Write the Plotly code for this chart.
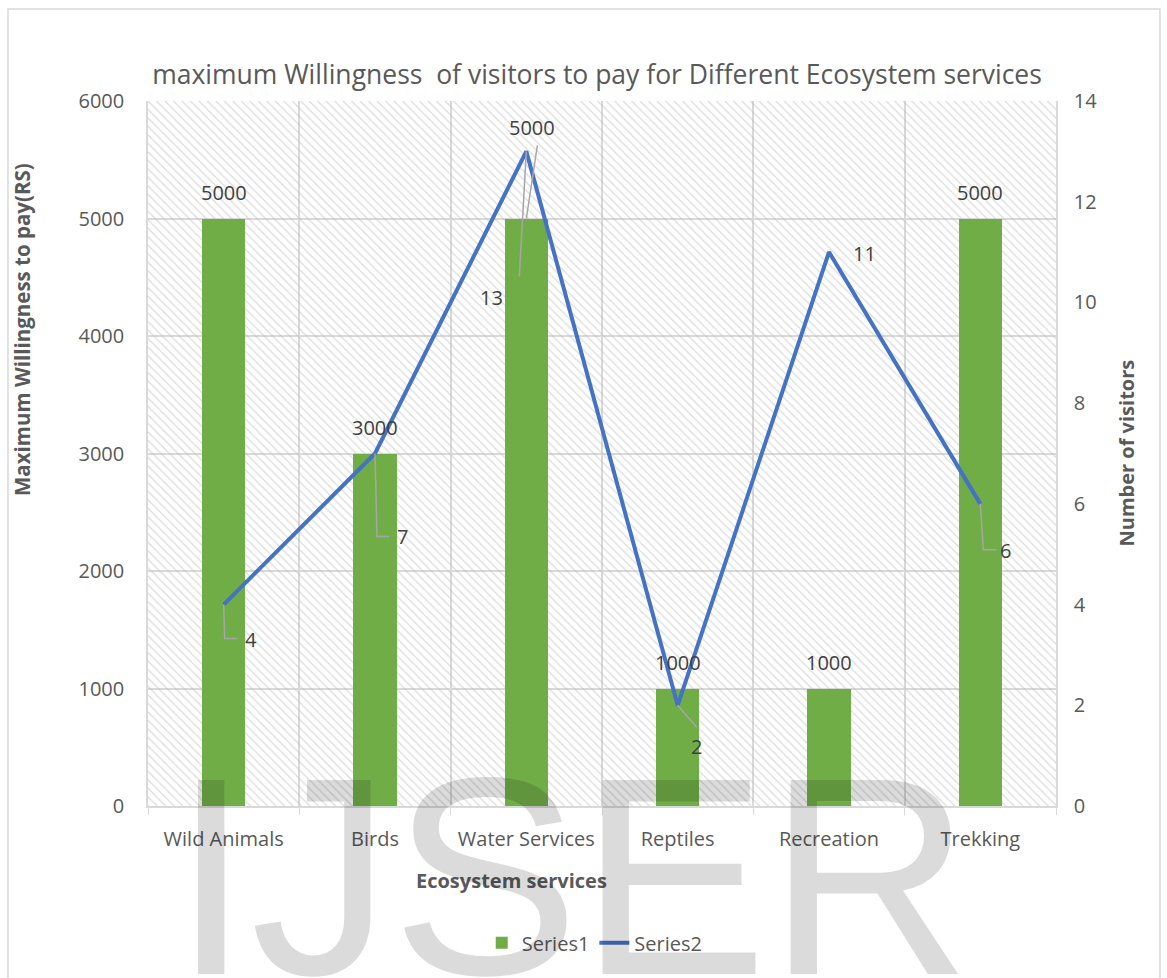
import plotly.graph_objects as go

categories = ["Wild Animals", "Birds", "Water Services", "Reptiles", "Recreation", "Trekking"]
series1 = [5000, 3000, 5000, 1000, 1000, 5000]   # Maximum willingness to pay (RS)
series2 = [4, 7, 13, 2, 11, 6]                   # Number of visitors
left_ticks = [0, 1000, 2000, 3000, 4000, 5000, 6000]
right_ticks = [0, 2, 4, 6, 8, 10, 12, 14]

title_text = "maximum Willingness\u00a0 of visitors to pay for Different Ecosystem services"

# label placement (pixel offsets, styling only)
bar_label_offsets = [(0, 26), (0, 26), (6, 91), (0, 26), (0, 26), (0, 26)]
line_label_offsets = [(27, -35), (27, -83), (-35, -146), (19, -41), (35, -1), (25, -47)]
line_leaders = ["M0,0 L1,-34 L14,-34", "M0,0 L2,-83 L14,-83", "M0,0 L-7,-125",
                "M0,0 L19,-22", None, "M0,0 L3,-46 L16,-46"]
bar_leaders = [None, None, "M0,0 L11,73", None, None, None]

FONT = "Open Sans"
GRAY = "#595959"
GRID = "#d9d9d9"

n = len(categories)
xs = list(range(n))
ymax = left_ticks[-1]
y2max = right_ticks[-1]

fig = go.Figure()

# hatched plot-area background
fig.add_trace(go.Scatter(
    x=[-0.5, n - 0.5, n - 0.5, -0.5, -0.5], y=[0, 0, ymax, ymax, 0],
    xaxis="x", yaxis="y", mode="none", fill="toself",
    fillcolor="rgba(0,0,0,0)",
    fillpattern=dict(shape="\\", fgcolor="#b8b8b8", bgcolor="rgba(0,0,0,0)", size=6, solidity=0.2),
    showlegend=False, hoverinfo="skip"))

fig.add_trace(go.Bar(
    x=xs, y=series1, name="Series1", xaxis="x", yaxis="y2",
    marker=dict(color="#70AD47", line=dict(width=0)), width=0.285))

fig.add_trace(go.Scatter(
    x=xs, y=series2, name="Series2", xaxis="x", yaxis="y3", mode="lines",
    line=dict(color="#4472C4", width=4)))

annotations = []
shapes = []
for i, v in enumerate(series1):
    dx, dy = bar_label_offsets[i]
    annotations.append(dict(x=xs[i], y=v, xref="x", yref="y2", text=str(v), showarrow=False,
                            xshift=dx, yshift=dy, font=dict(family=FONT, size=20, color="#404040")))
    if bar_leaders[i]:
        shapes.append(dict(type="path", xref="x", yref="y2", xsizemode="pixel", ysizemode="pixel",
                           xanchor=xs[i], yanchor=v, path=bar_leaders[i],
                           line=dict(color="#a6a6a6", width=1.5)))
for i, v in enumerate(series2):
    dx, dy = line_label_offsets[i]
    annotations.append(dict(x=xs[i], y=v, xref="x", yref="y3", text=str(v), showarrow=False,
                            xshift=dx, yshift=dy, font=dict(family=FONT, size=20, color="#404040")))
    if line_leaders[i]:
        shapes.append(dict(type="path", xref="x", yref="y3", xsizemode="pixel", ysizemode="pixel",
                           xanchor=xs[i], yanchor=v, path=line_leaders[i],
                           line=dict(color="#a6a6a6", width=1.5)))

# axis titles
annotations.append(dict(text="<b>Maximum Willingness to pay(RS)</b>", xref="paper", yref="paper",
                        x=-0.1388, y=0.6766, xanchor="center", yanchor="middle",
                        textangle=-90, showarrow=False,
                        font=dict(family=FONT, size=20.5, color=GRAY)))
annotations.append(dict(text="<b>Number of visitors</b>", xref="paper", yref="paper",
                        x=1.0771, y=0.5, xanchor="center", yanchor="middle",
                        textangle=-90, showarrow=False,
                        font=dict(family=FONT, size=20, color=GRAY)))
annotations.append(dict(text="<b>Ecosystem services</b>", xref="paper", yref="paper",
                        x=0.3998, y=-0.105, xanchor="center", yanchor="middle", showarrow=False,
                        font=dict(family=FONT, size=20, color=GRAY)))
# watermark
annotations.append(dict(text="IJSER", xref="paper", yref="paper", x=0.466, y=-0.1007,
                        xanchor="center", yanchor="middle", showarrow=False,
                        font=dict(family="Liberation Sans", size=282, color="rgba(0,0,0,0.14)")))

# chart border
shapes.append(dict(type="rect", xref="paper", yref="paper", x0=-0.1542, x1=1.1145,
                   y0=-0.27, y1=1.1305, line=dict(color=GRID, width=1.5), layer="below"))

fig.update_layout(
    width=1167, height=978,
    margin=dict(l=148, r=111, t=101, b=172),
    paper_bgcolor="white", plot_bgcolor="white",
    font=dict(family=FONT, color=GRAY),
    title=dict(text=title_text, x=597 / 1167, xref="container", xanchor="center",
               y=1 - 75 / 978, yref="container", yanchor="middle",
               font=dict(family=FONT, size=26.5, color=GRAY)),
    showlegend=True,
    legend=dict(orientation="h", x=0.492, xanchor="center", y=-0.194, yanchor="middle",
                font=dict(family=FONT, size=20, color=GRAY), bgcolor="rgba(0,0,0,0)"),
    bargap=0,
    xaxis=dict(type="linear", range=[-0.5, n - 0.5], tickvals=xs, ticktext=categories,
               showgrid=False, zeroline=False, ticks="", showline=True, linecolor=GRID, linewidth=1.5,
               tickfont=dict(family=FONT, size=20, color=GRAY), ticklabelstandoff=14,
               minor=dict(tick0=0.5, dtick=1, showgrid=True, gridcolor=GRID, gridwidth=1.5,
                          ticks="outside", ticklen=7, tickcolor=GRID)),
    yaxis=dict(range=[0, ymax], tickvals=left_ticks, showgrid=True, gridcolor=GRID, gridwidth=1.5,
               zeroline=False, showline=True, linecolor=GRID, linewidth=1.5,
               tickfont=dict(family=FONT, size=20, color=GRAY), ticklabelstandoff=18),
    yaxis2=dict(range=[0, ymax], overlaying="y", visible=False),
    yaxis3=dict(range=[0, y2max], tickvals=right_ticks, overlaying="y", side="right",
                showgrid=False, zeroline=False, showline=True, linecolor=GRID, linewidth=1.5,
                tickfont=dict(family=FONT, size=20, color=GRAY), ticklabelstandoff=12),
    annotations=annotations,
    shapes=shapes,
)

fig.write_html("out.html")
